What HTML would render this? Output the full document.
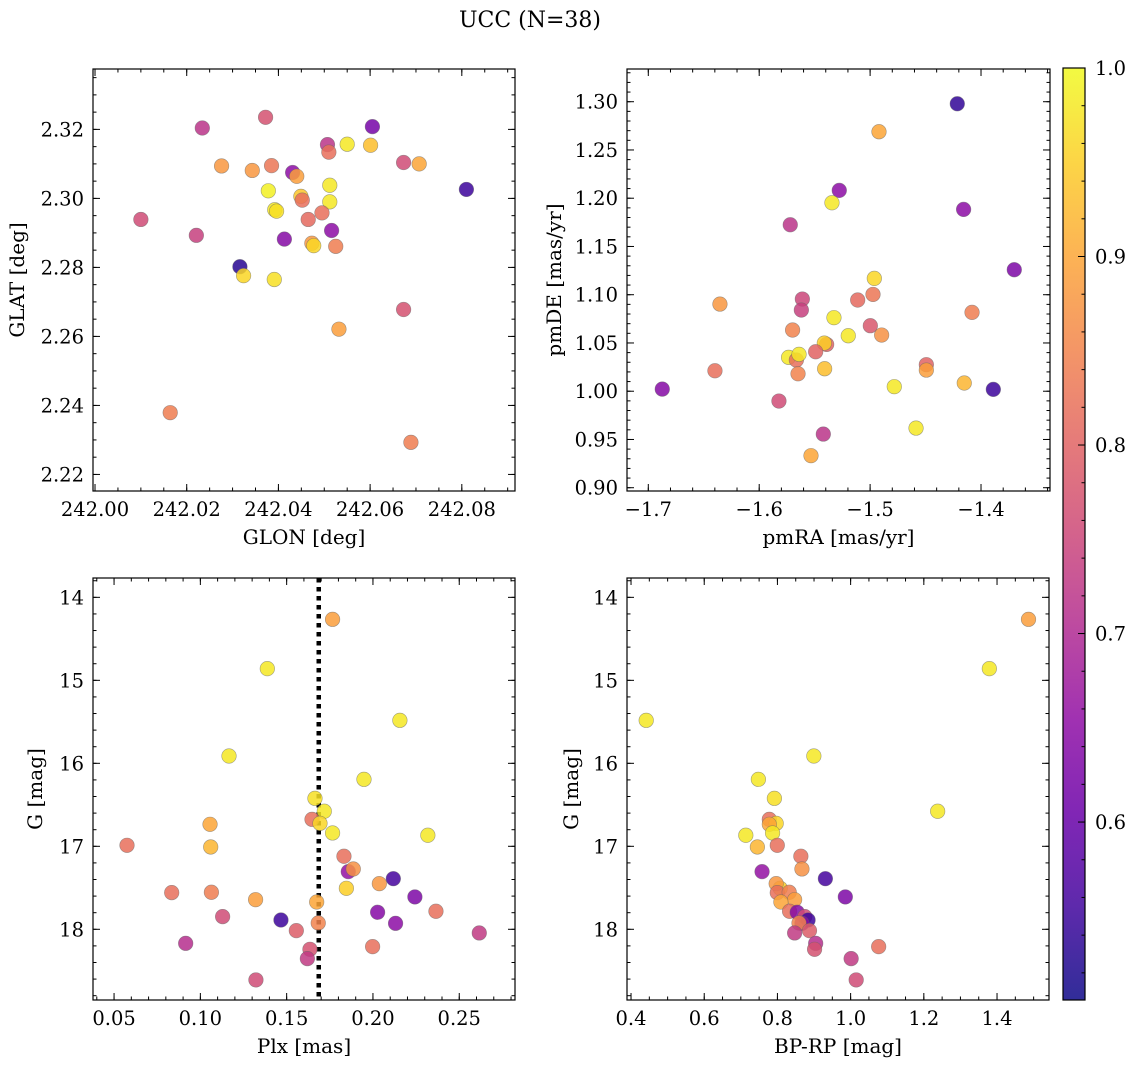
<!DOCTYPE html>
<html><head><meta charset="utf-8">
<style>
html,body{margin:0;padding:0;background:#fff;}
svg{display:block;font-family:"DejaVu Serif","Liberation Serif",serif;}
</style></head>
<body>
<svg id="fig" width="1136" height="1068" viewBox="0 0 1136 1068" xmlns="http://www.w3.org/2000/svg">
<text x="530" y="27" font-size="22" text-anchor="middle">UCC (N=38)</text>
</svg>
<script>
// ---- Panel 1: GLON / GLAT ----
const glon = [242.0372,242.0234,242.0605,242.0507,242.0510,242.0550,242.0601,242.0276,242.0343,242.0385,242.0431,242.0440,242.0673,242.0707,242.0810,242.0378,242.0449,242.0452,242.0512,242.0512,242.0392,242.0396,242.0100,242.0465,242.0495,242.0516,242.0221,242.0413,242.0473,242.0477,242.0525,242.0316,242.0324,242.0391,242.0673,242.0532,242.0164,242.0689];
const glat = [2.3235,2.3204,2.3208,2.3156,2.3134,2.3157,2.3154,2.3094,2.3081,2.3095,2.3075,2.3064,2.3104,2.3100,2.3026,2.3022,2.3006,2.2995,2.3038,2.2990,2.2967,2.2963,2.2939,2.2939,2.2958,2.2907,2.2893,2.2882,2.2870,2.2863,2.2861,2.2802,2.2776,2.2765,2.2678,2.2621,2.2379,2.2293];
const probPos = [0.77,0.72,0.62,0.72,0.82,0.98,0.93,0.88,0.88,0.83,0.65,0.89,0.76,0.90,0.55,0.99,0.94,0.82,0.98,0.98,0.98,0.97,0.76,0.81,0.82,0.65,0.74,0.64,0.88,0.96,0.84,0.53,0.96,0.97,0.77,0.89,0.84,0.84];
// ---- Panel 2: pmRA / pmDE ----
const pmra = [-1.4214,-1.492,-1.5278,-1.5344,-1.4157,-1.572,-1.370,-1.4962,-1.4974,-1.6354,-1.5611,-1.562,-1.5112,-1.4081,-1.5326,-1.5699,-1.4998,-1.5197,-1.4896,-1.5392,-1.5413,-1.5491,-1.5735,-1.5665,-1.5641,-1.6399,-1.565,-1.541,-1.4493,-1.4493,-1.4151,-1.4782,-1.6874,-1.3889,-1.5822,-1.5422,-1.4586,-1.5533];
const pmde = [1.2979,1.2689,1.2081,1.1953,1.1884,1.1725,1.1259,1.1169,1.1003,1.0903,1.0955,1.0841,1.0945,1.0817,1.0762,1.0634,1.0679,1.0575,1.0582,1.0485,1.0499,1.0409,1.0351,1.0323,1.0382,1.0212,1.0181,1.0233,1.0275,1.0219,1.0085,1.0047,1.0022,1.0019,0.9898,0.9556,0.9618,0.9332];
const probPm = [0.54,0.90,0.65,0.98,0.65,0.72,0.63,0.96,0.83,0.88,0.75,0.74,0.81,0.84,0.98,0.85,0.78,0.98,0.87,0.80,0.95,0.80,0.98,0.82,0.98,0.82,0.85,0.93,0.80,0.89,0.92,0.98,0.64,0.55,0.76,0.72,0.98,0.90];
// ---- Panels 3 & 4: Plx / BP-RP vs G ----
const gmag = [14.265,14.859,15.482,15.912,16.193,16.422,16.578,16.675,16.723,16.735,16.839,16.867,16.988,17.008,17.12,17.305,17.273,17.39,17.506,17.45,17.558,17.554,17.61,17.643,17.671,17.783,17.795,17.847,17.888,17.928,17.924,18.016,18.044,18.169,18.209,18.241,18.353,18.61];
const plx = [0.1766,0.1388,0.2156,0.1166,0.1948,0.1664,0.1718,0.1647,0.1693,0.1056,0.1766,0.2318,0.0575,0.106,0.1832,0.1857,0.1886,0.2118,0.1846,0.2037,0.0834,0.1064,0.2243,0.132,0.1674,0.2365,0.2027,0.1129,0.1467,0.2131,0.1683,0.1556,0.2616,0.0915,0.1998,0.1635,0.162,0.1322];
const bprp = [1.486,1.379,0.4415,0.8995,0.748,0.7917,1.2378,0.7778,0.7966,0.7778,0.7867,0.7136,0.7996,0.7452,0.864,0.758,0.867,0.931,0.8075,0.7966,0.7996,0.8322,0.9855,0.847,0.8095,0.8332,0.854,0.8748,0.8837,0.867,0.859,0.8876,0.847,0.9045,1.0766,0.9015,1.0014,1.0152];
const probPhot = [0.89,0.98,0.98,0.98,0.98,0.97,0.98,0.82,0.96,0.90,0.98,0.98,0.82,0.92,0.82,0.66,0.87,0.56,0.95,0.88,0.82,0.84,0.63,0.89,0.90,0.82,0.64,0.76,0.55,0.65,0.85,0.79,0.73,0.71,0.82,0.77,0.73,0.76];
const plxMedian = 0.1686;
const cbTicks = [0.6,0.7,0.8,0.9,1.0];

const VMIN = 0.5056, VMAX = 1.0;
const FS = 19.5, LFS = 20;
const NS = "http://www.w3.org/2000/svg";
const svg = document.getElementById('fig');
const plasma = ["#0d0887","#41049d","#6a00a8","#8f0da4","#b12a90","#cc4778","#e16462","#f2844b","#fca636","#fcce25","#f0f921"];
function hex(h){return [parseInt(h.slice(1,3),16),parseInt(h.slice(3,5),16),parseInt(h.slice(5,7),16)];}
function cmap(v){
  let t=(v-VMIN)/(VMAX-VMIN); t=Math.max(0,Math.min(1,t));
  const f=t*10, i=Math.min(9,Math.floor(f)), r=f-i;
  const a=hex(plasma[i]), b=hex(plasma[i+1]);
  return 'rgb('+a.map((c,k)=>Math.round(c+(b[k]-c)*r)).join(',')+')';
}
function mk(tag, attrs, parent){
  const e=document.createElementNS(NS,tag);
  for(const k in attrs) e.setAttribute(k,attrs[k]);
  (parent||svg).appendChild(e); return e;
}
function fmt(v,d){ const s=Math.abs(v).toFixed(d); return (v<0?'\u2212':'')+s; }

function panel(o){
  const g=mk('g',{});
  
  
  const sx=v=>o.x0+(v-o.xmin)/(o.xmax-o.xmin)*(o.x1-o.x0);
  const sy=o.invert ? (v=>o.y0+(v-o.ymin)/(o.ymax-o.ymin)*(o.y1-o.y0))
                    : (v=>o.y1-(v-o.ymin)/(o.ymax-o.ymin)*(o.y1-o.y0));
  const tg=mk('g',{stroke:'#000','stroke-width':1},g);
  function xt(v,len){const x=sx(v); if(x<o.x0-0.5||x>o.x1+0.5)return;
    mk('line',{x1:x,x2:x,y1:o.y1,y2:o.y1-len},tg); mk('line',{x1:x,x2:x,y1:o.y0,y2:o.y0+len},tg);}
  function yt(v,len){const y=sy(v); if(y<o.y0-0.5||y>o.y1+0.5)return;
    mk('line',{y1:y,y2:y,x1:o.x0,x2:o.x0+len},tg); mk('line',{y1:y,y2:y,x1:o.x1,x2:o.x1-len},tg);}
  for(let v=Math.ceil(o.xmin/o.xminor-1e-6)*o.xminor; v<=o.xmax; v+=o.xminor) xt(v,3.5);
  for(let v=Math.ceil(o.ymin/o.yminor-1e-6)*o.yminor; v<=o.ymax; v+=o.yminor) yt(v,3.5);
  o.xticks.forEach(v=>{xt(v,7);
    const t=mk('text',{x:sx(v),y:o.y1+25,'font-size':FS,'text-anchor':'middle'},g); t.textContent=fmt(v,o.xd);
     });
  o.yticks.forEach(v=>{yt(v,7);
    const t=mk('text',{x:o.x0-9,y:sy(v)+7,'font-size':FS,'text-anchor':'end'},g); t.textContent=fmt(v,o.yd);
     });
  const fr=mk('rect',{x:o.x0,y:o.y0,width:o.x1-o.x0,height:o.y1-o.y0,fill:'none',stroke:'#000','stroke-width':1.2},g);
   
  const xl=mk('text',{x:(o.x0+o.x1)/2,y:o.y1+53,'font-size':LFS,'text-anchor':'middle'},g); xl.textContent=o.xlabel;
   
  const ylx=o.ylx, yly=(o.y0+o.y1)/2;
  const yl=mk('text',{x:ylx,y:yly,'font-size':LFS,'text-anchor':'middle',transform:'rotate(-90 '+ylx+' '+yly+')'},g); yl.textContent=o.ylabel;
   
  const cid='c'+Math.round(o.x0)+'_'+Math.round(o.y0);
  const cp=mk('clipPath',{id:cid},g); mk('rect',{x:o.x0,y:o.y0,width:o.x1-o.x0,height:o.y1-o.y0},cp);
  const pg=mk('g',{'clip-path':'url(#'+cid+')'},g);
  if(o.vline!==undefined){
    const l=mk('line',{x1:sx(o.vline),x2:sx(o.vline),y1:o.y0,y2:o.y1,stroke:'#000','stroke-width':4.5,'stroke-dasharray':'4.5 4.5'},pg);
     
  }
  o.xs.forEach((xv,i)=>{
    const c=mk('circle',{cx:sx(xv),cy:sy(o.ys[i]),r:7.3,fill:cmap(o.ps[i]),'fill-opacity':0.85,stroke:'#666','stroke-opacity':0.6,'stroke-width':0.6},pg);
    
    
  });
}

panel({name:'glon-glat-panel',x0:93,x1:515,y0:69,y1:491,xmin:241.99956,xmax:242.0916,ymin:2.2152,ymax:2.3375,
  xticks:[242.00,242.02,242.04,242.06,242.08],xd:2,yticks:[2.22,2.24,2.26,2.28,2.30,2.32],yd:2,xminor:0.005,yminor:0.005,
  xlabel:'GLON [deg]',ylabel:'GLAT [deg]',ylx:24,xs:glon,ys:glat,ps:probPos});
panel({name:'proper-motion-panel',x0:627,x1:1050,y0:69,y1:491,xmin:-1.7192,xmax:-1.3378,ymin:0.8966,ymax:1.3339,
  xticks:[-1.7,-1.6,-1.5,-1.4],xd:1,yticks:[0.90,0.95,1.00,1.05,1.10,1.15,1.20,1.25,1.30],yd:2,xminor:0.02,yminor:0.01,
  xlabel:'pmRA [mas/yr]',ylabel:'pmDE [mas/yr]',ylx:561,xs:pmra,ys:pmde,ps:probPm});
panel({name:'plx-g-panel',x0:93,x1:515,y0:578,y1:1000,xmin:0.0378,xmax:0.2823,ymin:13.767,ymax:18.852,invert:true,
  xticks:[0.05,0.10,0.15,0.20,0.25],xd:2,yticks:[14,15,16,17,18],yd:0,xminor:0.01,yminor:0.2,
  xlabel:'Plx [mas]',ylabel:'G [mag]',ylx:42,xs:plx,ys:gmag,ps:probPhot,vline:plxMedian});
panel({name:'cmd-panel',x0:627,x1:1049,y0:578,y1:1000,xmin:0.389,xmax:1.542,ymin:13.767,ymax:18.852,invert:true,
  xticks:[0.4,0.6,0.8,1.0,1.2,1.4],xd:1,yticks:[14,15,16,17,18],yd:0,xminor:0.05,yminor:0.2,
  xlabel:'BP-RP [mag]',ylabel:'G [mag]',ylx:578,xs:bprp,ys:gmag,ps:probPhot});

(function(){
  const x0=1063,x1=1085,y0=68,y1=1000;
  const g=mk('g',{});
  
  
  const defs=mk('defs',{},g);
  const lg=mk('linearGradient',{id:'cbg',x1:0,y1:1,x2:0,y2:0},defs);
  for(let i=0;i<=20;i++){ const v=VMIN+(VMAX-VMIN)*i/20; mk('stop',{offset:(i/20),'stop-color':cmap(v),'stop-opacity':0.85},lg);}
  mk('rect',{x:x0,y:y0,width:x1-x0,height:y1-y0,fill:'url(#cbg)'},g);
  mk('rect',{x:x0,y:y0,width:x1-x0,height:y1-y0,fill:'none',stroke:'#000','stroke-width':1.2},g);
  const sy=v=>y1-(v-VMIN)/(VMAX-VMIN)*(y1-y0);
  for(let v=0.52; v<0.999; v+=0.02){ mk('line',{x1:x1,x2:x1-3.5,y1:sy(v),y2:sy(v),stroke:'#000'},g); }
  cbTicks.forEach(v=>{
    mk('line',{x1:x1,x2:x1-7,y1:sy(v),y2:sy(v),stroke:'#000'},g);
    const t=mk('text',{x:x1+10,y:sy(v)+7,'font-size':FS},g); t.textContent=v.toFixed(1);
     
  });
})();
</script>
</body></html>
